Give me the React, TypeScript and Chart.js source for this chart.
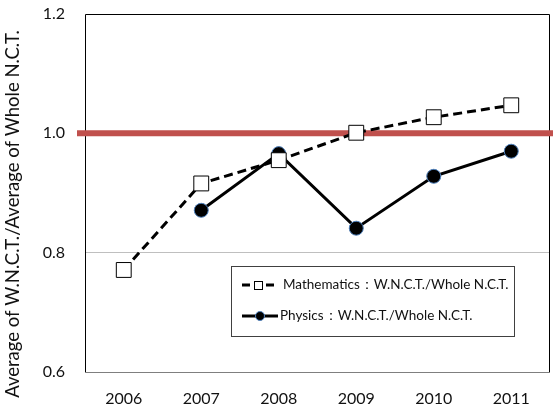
import React, { useEffect, useRef } from "react";
import { Chart, registerables } from "chart.js";

Chart.register(...registerables);

const years = ["2006", "2007", "2008", "2009", "2010", "2011"];
const mathRatio = [0.771, 0.916, 0.955, 1.001, 1.027, 1.047];
const physicsRatio = [null, 0.871, 0.966, 0.841, 0.928, 0.97];
const referenceValue = 1.0;
const yTicks = [0.6, 0.8, 1.0, 1.2];
const yMin = 0.6;
const yMax = 1.2;
const mathLabel = "Mathematics：W.N.C.T./Whole N.C.T.";
const physicsLabel = "Physics：W.N.C.T./Whole N.C.T.";
const yTitle = "Average of W.N.C.T./Average of Whole N.C.T.";

const FONT = "Lato";
const TEXT = "#111111";

const framePlugin = {
  id: "frameAndRef",
  beforeDatasetsDraw(chart: any) {
    const { ctx, chartArea: a, scales } = chart;
    ctx.save();
    ctx.lineWidth = 1;
    ctx.strokeStyle = "#000000";
    ctx.beginPath();
    ctx.moveTo(a.left + 0.5, a.bottom);
    ctx.lineTo(a.left + 0.5, a.top + 0.5);
    ctx.lineTo(a.right - 0.5, a.top + 0.5);
    ctx.lineTo(a.right - 0.5, a.bottom);
    ctx.stroke();
    ctx.strokeStyle = "#7f7f7f";
    ctx.beginPath();
    ctx.moveTo(a.left, a.bottom + 0.5);
    ctx.lineTo(a.right, a.bottom + 0.5);
    ctx.stroke();
    const y = scales.y.getPixelForValue(referenceValue);
    ctx.strokeStyle = "#C0504D";
    ctx.lineWidth = 6;
    ctx.beginPath();
    ctx.moveTo(a.left - 8, y);
    ctx.lineTo(chart.width, y);
    ctx.stroke();
    ctx.restore();
  },
};

const legendPlugin = {
  id: "boxLegend",
  afterDatasetsDraw(chart: any) {
    const { ctx } = chart;
    ctx.save();
    const bx = 231.5, by = 266.5, bw = 283, bh = 70;
    ctx.fillStyle = "#ffffff";
    ctx.fillRect(bx, by, bw, bh);
    ctx.strokeStyle = "#404040";
    ctx.lineWidth = 1;
    ctx.strokeRect(bx, by, bw, bh);

    const r1 = 285;
    ctx.strokeStyle = "#000";
    ctx.lineWidth = 3;
    ctx.setLineDash([8, 4]);
    ctx.beginPath();
    ctx.moveTo(242, r1);
    ctx.lineTo(274, r1);
    ctx.stroke();
    ctx.setLineDash([]);
    ctx.fillStyle = "#fff";
    ctx.lineWidth = 1;
    ctx.fillRect(254.5, r1 - 3.5, 8, 8);
    ctx.strokeRect(254.5, r1 - 3.5, 8, 8);

    const r2 = 316;
    ctx.lineWidth = 3;
    ctx.beginPath();
    ctx.moveTo(242, r2);
    ctx.lineTo(278, r2);
    ctx.stroke();
    ctx.beginPath();
    ctx.arc(260, r2, 4.5, 0, Math.PI * 2);
    ctx.fillStyle = "#000";
    ctx.fill();
    ctx.lineWidth = 1;
    ctx.strokeStyle = "#4F81BD";
    ctx.stroke();

    ctx.fillStyle = TEXT;
    ctx.font = `13.5px ${FONT}`;
    ctx.textAlign = "left";
    ctx.textBaseline = "middle";
    ctx.fillText(mathLabel, 283, r1);
    ctx.fillText(physicsLabel, 280, r2);
    ctx.restore();
  },
};

const titlePlugin = {
  id: "yTitle",
  afterDraw(chart: any) {
    const { ctx } = chart;
    ctx.save();
    ctx.translate(13, 214);
    ctx.rotate(-Math.PI / 2);
    ctx.font = `18.5px ${FONT}`;
    ctx.fillStyle = TEXT;
    ctx.textAlign = "center";
    ctx.textBaseline = "middle";
    ctx.fillText(yTitle, 0, 0);
    ctx.restore();
  },
};

export default function App() {
  const ref = useRef<HTMLCanvasElement>(null);
  useEffect(() => {
    if (!ref.current) return;
    const chart = new Chart(ref.current, {
      type: "line",
      data: {
        labels: years,
        datasets: [
          {
            label: mathLabel,
            data: mathRatio,
            borderColor: "#000000",
            borderWidth: 3,
            borderDash: [9, 5],
            pointStyle: "rect",
            pointRadius: 10.5,
            pointBackgroundColor: "#ffffff",
            pointBorderColor: "#000000",
            pointBorderWidth: 1,
            tension: 0,
          },
          {
            label: physicsLabel,
            data: physicsRatio,
            borderColor: "#000000",
            borderWidth: 3,
            pointStyle: "circle",
            pointRadius: 7,
            pointBackgroundColor: "#000000",
            pointBorderColor: "#4F81BD",
            pointBorderWidth: 1,
            tension: 0,
            spanGaps: false,
          },
        ],
      } as any,
      options: {
        animation: false,
        responsive: false,
        devicePixelRatio: 1,
        layout: { autoPadding: false, padding: { top: 14, right: 3, left: 0, bottom: 0 } },
        plugins: {
          legend: { display: false },
          tooltip: { enabled: false },
        },
        scales: {
          x: {
            type: "category",
            offset: true,
            grid: { display: false, drawTicks: false },
            border: { display: false },
            ticks: {
              padding: 17,
              color: TEXT,
              font: { family: FONT, size: 16 },
              maxRotation: 0,
            },
            afterFit: (s: any) => {
              s.height = 40;
            },
          },
          y: {
            type: "linear",
            min: yMin,
            max: yMax,
            grid: {
              drawTicks: true,
              tickLength: 18,
              tickColor: "rgba(0,0,0,0)",
              color: (c: any) =>
                c.tick && c.tick.value > yMin + 0.01 && c.tick.value < yMax - 0.01
                  ? "#BFBFBF"
                  : "rgba(0,0,0,0)",
            },
            border: { display: false },
            afterBuildTicks: (s: any) => {
              s.ticks = yTicks.map((v) => ({ value: v }));
            },
            ticks: {
              padding: 2,
              color: TEXT,
              font: { family: FONT, size: 16 },
              callback: (v: any) => Number(v).toFixed(1),
            },
            afterFit: (s: any) => {
              s.width = 85;
            },
          },
        },
      } as any,
      plugins: [framePlugin, legendPlugin, titlePlugin],
    });
    return () => chart.destroy();
  }, []);
  return (
    <div style={{ position: "fixed", left: 0, top: 0, width: 553, height: 412, background: "#fff" }}>
      <canvas ref={ref} width={553} height={412} style={{ width: 553, height: 412 }} />
    </div>
  );
}
